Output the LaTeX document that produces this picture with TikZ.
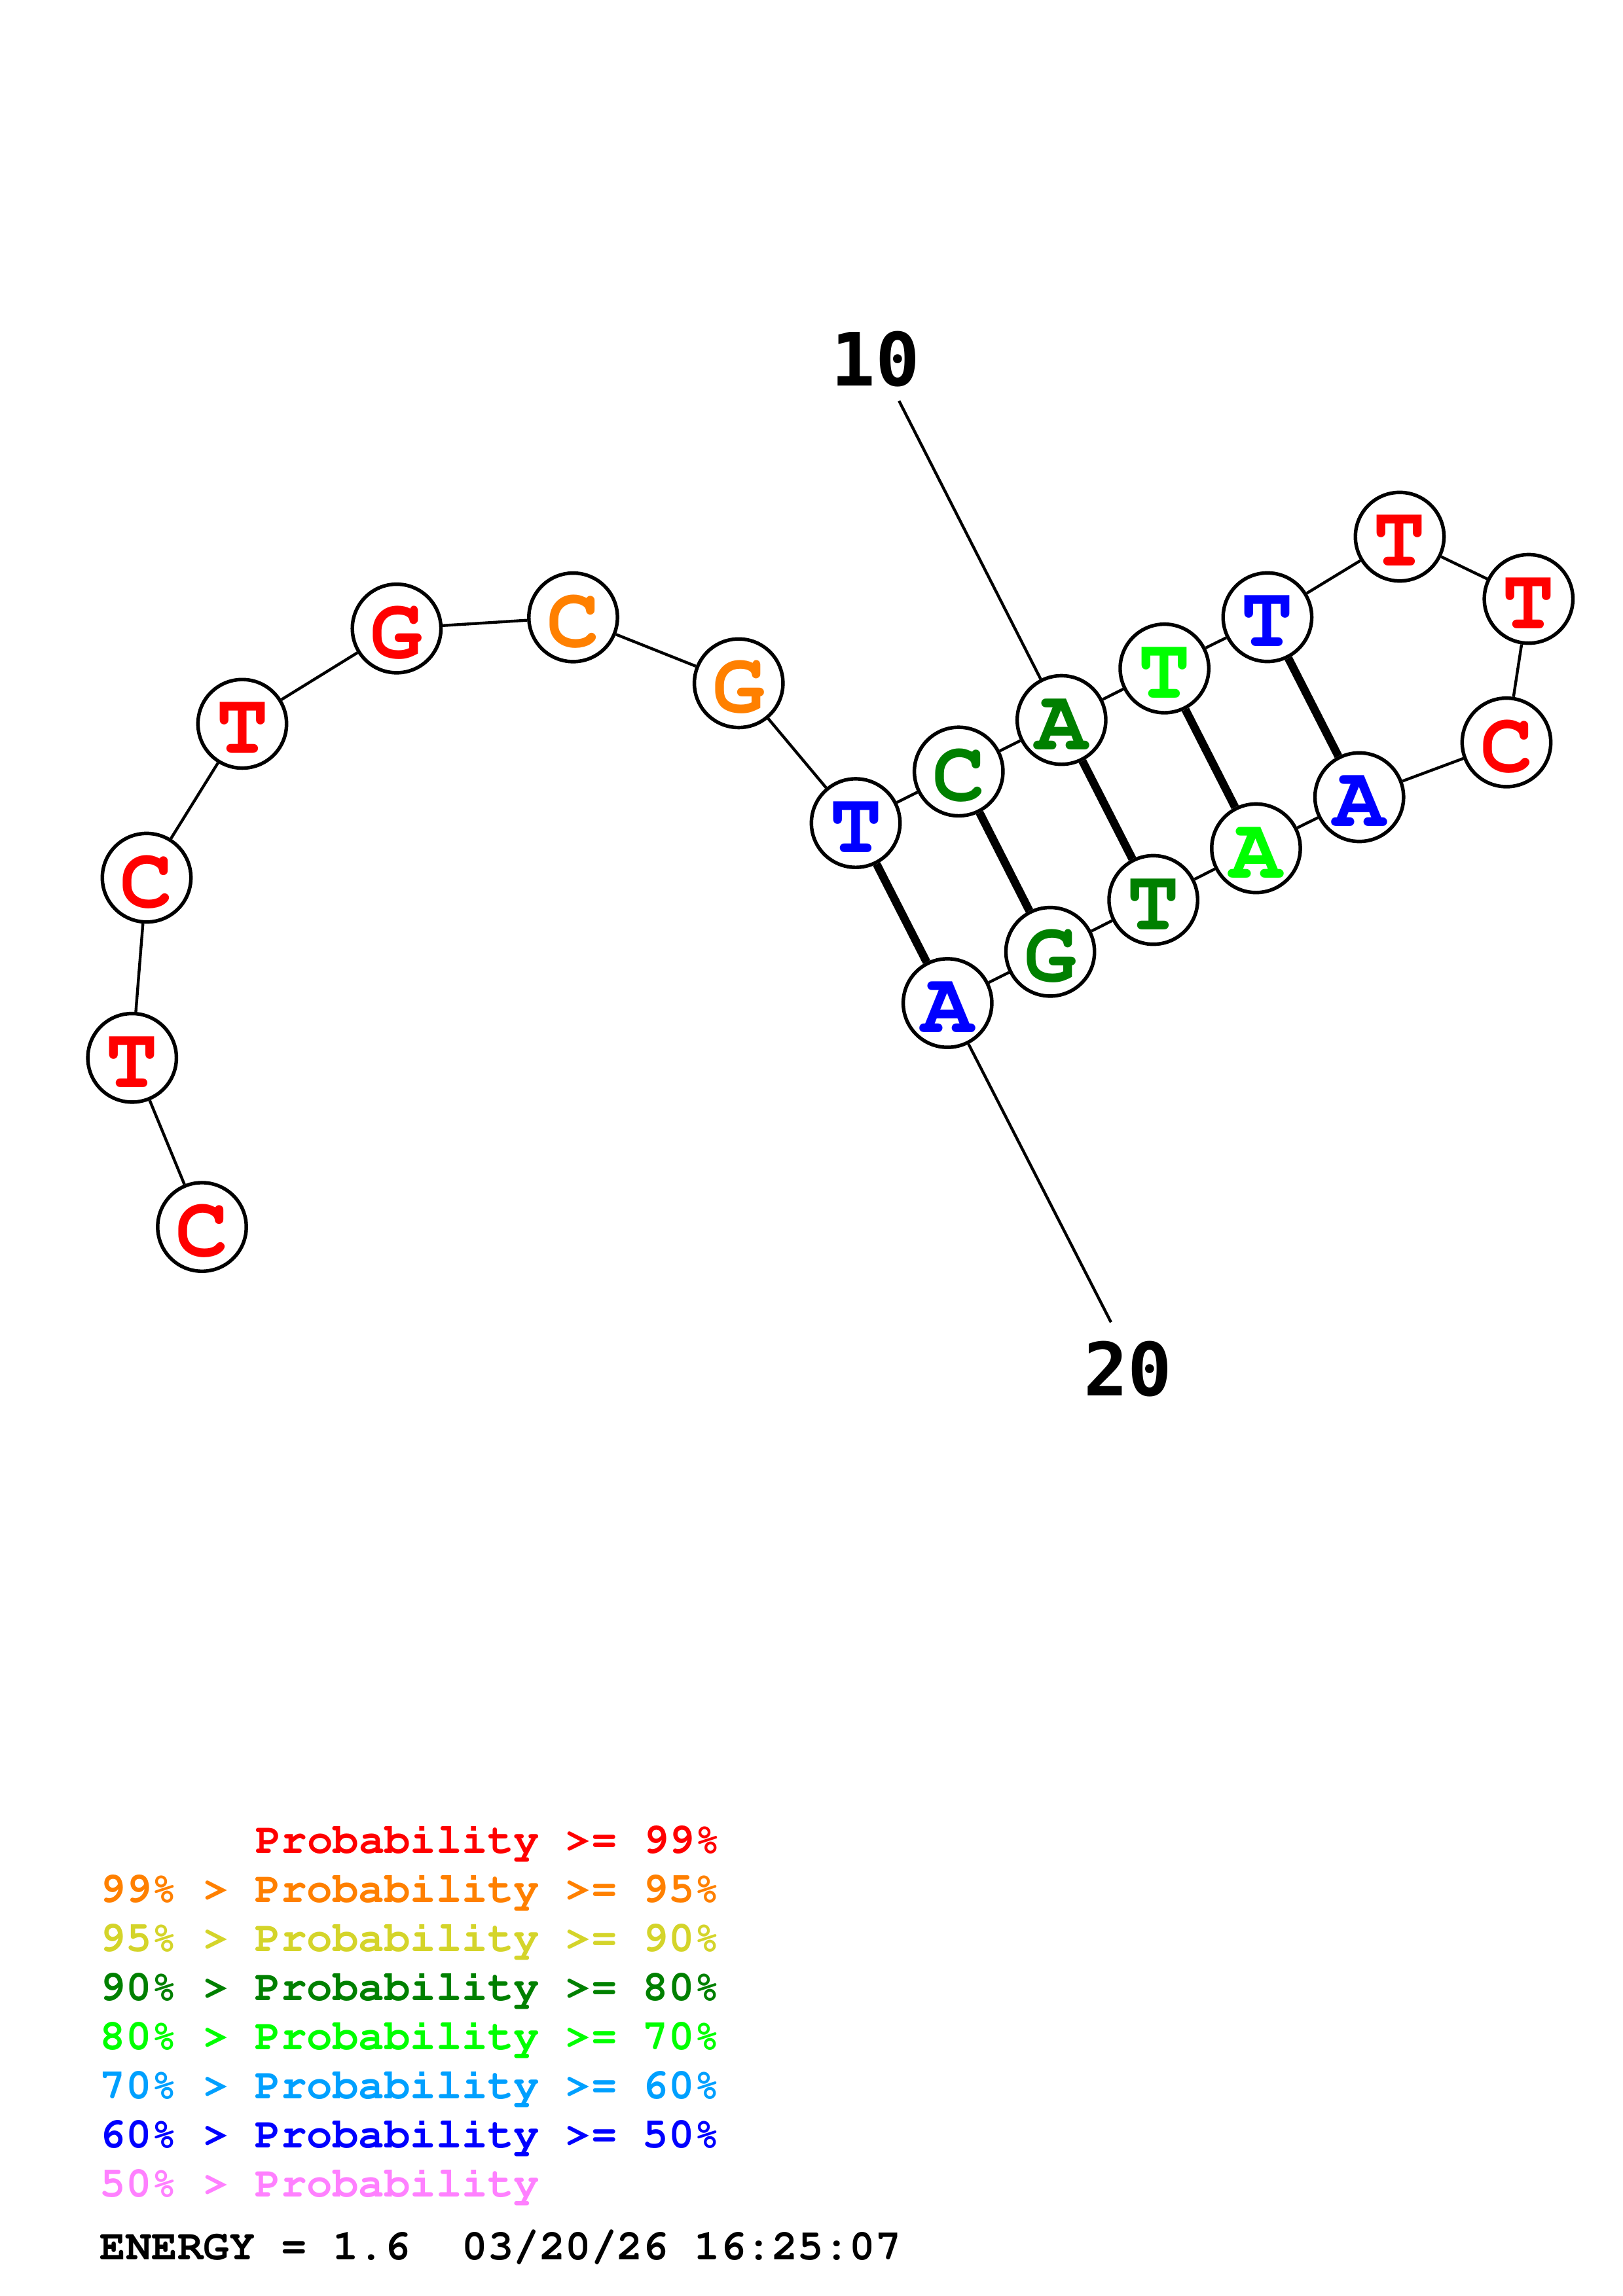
\documentclass[tikz,border=0pt]{standalone}
\usepackage[T1]{fontenc}
\usepackage{fontspec}
\newfontfamily\idxfont{DejaVu Sans Mono}
\newcommand\courb{\fontencoding{T1}\fontfamily{pcr}\fontseries{b}\selectfont}

\definecolor{pr99}{RGB}{255,0,0}
\definecolor{pr95}{RGB}{255,128,0}
\definecolor{pr90}{RGB}{212,212,42}
\definecolor{pr80}{RGB}{0,128,0}
\definecolor{pr70}{RGB}{0,255,0}
\definecolor{pr60}{RGB}{0,160,255}
\definecolor{pr50}{RGB}{0,0,255}
\definecolor{pr00}{RGB}{255,128,255}

\tikzset{
    nuc/.style={circle, draw, line width=1.3pt, fill=white, minimum size=32.5pt,
      inner sep=0pt, text height=21.6pt, text depth=0pt,
      font=\courb\fontsize{32}{32}\selectfont},
    bb/.style={line width=1.05pt},
    bpair/.style={line width=3pt},
    idx/.style={inner sep=0pt, font=\idxfont\bfseries\fontsize{27}{27}\selectfont},
    legend/.style={anchor=base west, inner sep=0pt,
      font=\courb\fontsize{15.8}{15.8}\selectfont}
}

\begin{document}
\begin{tikzpicture}[x=0.53726pt, y=-0.53726pt]
      \useasboundingbox (0,0) rectangle (1108,1568);
      % bases
      \foreach \i/\x/\y/\b/\c in {
        1/137.9/837.9/C/pr99, 2/90.2/722.4/T/pr99, 3/100.1/599.4/C/pr99,
        4/165.4/494.3/T/pr99, 5/270.8/429.2/G/pr99, 6/391.3/421.6/C/pr95,
        7/504.3/466.6/G/pr95, 8/584.2/562.1/T/pr50, 9/654.5/526.9/C/pr80,
        10/724.7/491.7/A/pr80, 11/795/456.5/T/pr70, 12/865.3/421.5/T/pr50,
        13/955.6/366.5/T/pr99, 14/1043.6/409/T/pr99, 15/1028.5/507/C/pr99,
        16/928/544.4/A/pr50, 17/857.5/579.3/A/pr70, 18/787.4/614.6/T/pr80,
        19/717/650/G/pr80, 20/646.9/685/A/pr50}
        \node[nuc, text=\c] (n\i) at (\x,\y) {\b};
      % backbone
      \foreach \i [count=\j from 2] in {1,...,19}
        \draw[bb] (n\i) -- (n\j);
      % pairs
      \foreach \a/\b in {8/20, 9/19, 10/18, 11/17, 12/16}
        \draw[bpair] (n\a) -- (n\b);
      % numbering
      \node[idx] (l10) at (597.7,245.2) {10};
      \coordinate (t10) at (613.8,273.8);
      \draw[bb] (t10) -- (n10);
      \node[idx] (l20) at (770,935) {20};
      \coordinate (t20) at (758.5,903);
      \draw[bb] (n20) -- (t20);
      % legend
      \node[legend, text=pr99] (lg1) at (174,1265.8) {Probability >= 99\%};
      \node[legend, text=pr95] (lg2) at (68,1299.3) {99\% > Probability >= 95\%};
      \node[legend, text=pr90] (lg3) at (68,1332.8) {95\% > Probability >= 90\%};
      \node[legend, text=pr80] (lg4) at (68,1366.3) {90\% > Probability >= 80\%};
      \node[legend, text=pr70] (lg5) at (68,1399.8) {80\% > Probability >= 70\%};
      \node[legend, text=pr60] (lg6) at (68,1433.3) {70\% > Probability >= 60\%};
      \node[legend, text=pr50] (lg7) at (68,1466.8) {60\% > Probability >= 50\%};
      \node[legend, text=pr00] (lg8) at (68,1500.3) {50\% > Probability};
      \node[legend] (energy) at (68,1543) {ENERGY = 1.6~~03/20/26 16:25:07};
\end{tikzpicture}
\end{document}
